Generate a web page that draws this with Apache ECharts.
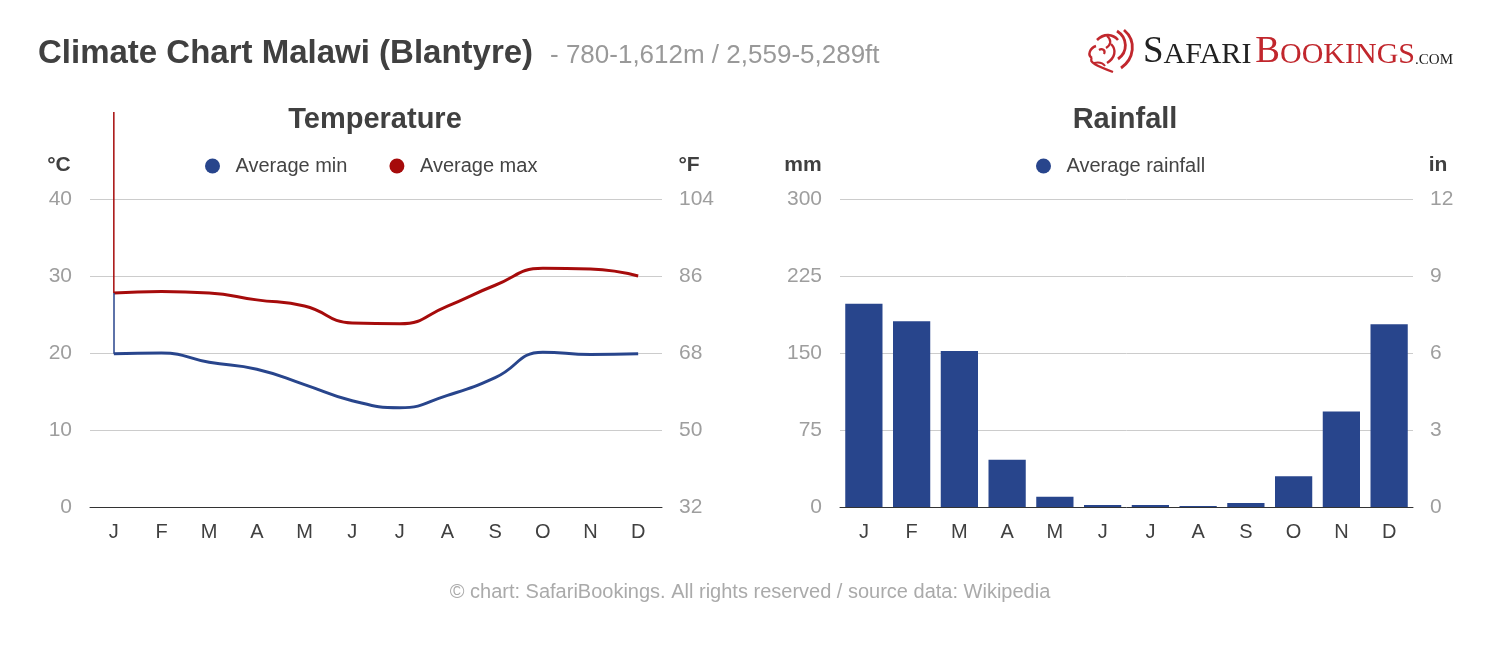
<!DOCTYPE html>
<html>
<head>
<meta charset="utf-8">
<script src="https://cdn.jsdelivr.net/npm/echarts@6/dist/echarts.min.js"></script>
<style>
html,body{margin:0;padding:0;background:#fff;}
#chart{width:1500px;height:652px;}
</style>
</head>
<body>
<div id="chart"></div>
<script>
// ---- data ----
const months = ['J','F','M','A','M','J','J','A','S','O','N','D'];
const avgMin = [19.9, 20.0, 18.8, 17.9, 15.9, 13.8, 12.9, 14.5, 16.8, 20.1, 19.8, 19.9];
const avgMax = [27.8, 28.0, 27.8, 26.9, 26.1, 23.9, 23.8, 26.1, 28.8, 31.0, 30.9, 30.0];
const rainfall = [198, 181, 152, 46, 10, 2, 2, 1, 4, 30, 93, 178];
const celsiusAxis = {min: 0, max: 40, interval: 10};
const fahrenheitAxis = {min: 32, max: 104, interval: 18};
const mmAxis = {min: 0, max: 300, interval: 75};
const inchAxis = {min: 0, max: 12, interval: 3};
const artifactTop = 51.3; // top end of the vertical start stroke (°C)

const FONT = '"Liberation Sans", Arial, sans-serif';
const SERIF = '"Liberation Serif", serif';
const BLUE = '#28458c';
const RED = '#a60b0b';
const LOGO_RED = '#c1272d';
const TICK = '#9e9e9e';
const DARK = '#404040';

const chart = echarts.init(document.getElementById('chart'), null, {renderer: 'canvas'});

function xAx(gi) {
  return {
    gridIndex: gi, type: 'category', data: months, boundaryGap: true,
    axisTick: {show: false},
    axisLine: {lineStyle: {color: '#333', width: 1}},
    axisLabel: {color: DARK, fontSize: 20, fontFamily: FONT, margin: 15}
  };
}
function yAx(gi, pos, r, grid) {
  return {
    gridIndex: gi, type: 'value', position: pos,
    min: r.min, max: r.max, interval: r.interval,
    axisLine: {show: false}, axisTick: {show: false},
    splitLine: {show: grid, lineStyle: {color: '#cccccc', width: 1}},
    axisLabel: {color: TICK, fontSize: 21, fontFamily: FONT, margin: pos === 'left' ? 18 : 17}
  };
}
function txt(x, y, text, size, color, bold, align) {
  return {type: 'text', x: x, y: y, silent: true, style: {
    text: text, fill: color, fontSize: size, fontWeight: bold ? 'bold' : 'normal',
    fontFamily: FONT, align: align || 'center', verticalAlign: 'middle'}};
}
function stroke(x1, y1, c1x, c1y, c2x, c2y, x2, y2, w) {
  return {type: 'bezierCurve', silent: true,
    shape: {x1: x1, y1: y1, cpx1: c1x, cpy1: c1y, cpx2: c2x, cpy2: c2y, x2: x2, y2: y2},
    style: {stroke: LOGO_RED, lineWidth: w || 2.4, fill: null}};
}

const graphics = [
  txt(38, 54, 'Climate Chart Malawi (Blantyre)', 33, DARK, true, 'left'),
  txt(550, 56, '- 780-1,612m / 2,559-5,289ft', 26, '#999999', false, 'left'),
  txt(375, 120, 'Temperature', 29, DARK, true),
  txt(1125, 120, 'Rainfall', 29, DARK, true),
  txt(59, 165, '°C', 21, DARK, true),
  txt(689, 165, '°F', 21, DARK, true),
  txt(803, 165, 'mm', 21, DARK, true),
  txt(1438, 165, 'in', 21, DARK, true),
  txt(750, 592, '© chart: SafariBookings. All rights reserved / source data: Wikipedia', 20, '#aaaaaa', false),
  // logo wordmark
  {type: 'text', x: 1143, y: 71, silent: true, style: {
    text: '{s|S}{a|AFARI}{b|B}{c|OOKINGS}{d|.COM}', align: 'left', verticalAlign: 'bottom',
    rich: {
      s: {fontSize: 37, fontFamily: SERIF, fill: '#222', verticalAlign: 'bottom'},
      a: {fontSize: 30, fontFamily: SERIF, fill: '#222', verticalAlign: 'bottom', padding: [0, 0, 1, 0]},
      b: {fontSize: 37, fontFamily: SERIF, fill: LOGO_RED, verticalAlign: 'bottom', padding: [0, 0, 0, 4]},
      c: {fontSize: 30, fontFamily: SERIF, fill: LOGO_RED, verticalAlign: 'bottom', padding: [0, 0, 1, 0]},
      d: {fontSize: 15, fontFamily: SERIF, fill: '#222', verticalAlign: 'bottom', padding: [0, 0, 3, 0]}
    }
  }},
  // logo lion mark (decorative strokes)
  stroke(1097, 40, 1104, 33, 1113, 34, 1118, 40, 2.6),
  stroke(1096, 46, 1090, 48, 1087, 55, 1092, 58, 2.4),
  stroke(1092, 58, 1088, 62, 1097, 66, 1113, 72, 2.4),
  stroke(1099, 50, 1102, 48, 1106, 50, 1104, 54, 2.2),
  stroke(1094, 63, 1099, 62, 1103, 63, 1105, 66, 2),
  stroke(1117, 31, 1128, 38, 1128, 52, 1118, 59, 2.8),
  stroke(1124, 30, 1137, 41, 1134, 59, 1121, 68, 2.8),
  stroke(1111, 44, 1117, 50, 1115, 58, 1107, 63, 2.4),
  stroke(1107, 36, 1112, 40, 1111, 45, 1106, 48, 2.2)
];

const option = {
  animation: false,
  backgroundColor: '#ffffff',
  grid: [
    {left: 90, right: 838, top: 199, bottom: 145},
    {left: 840, right: 87, top: 199, bottom: 145}
  ],
  xAxis: [xAx(0), xAx(1)],
  yAxis: [
    yAx(0, 'left', celsiusAxis, true),
    yAx(0, 'right', fahrenheitAxis, false),
    yAx(1, 'left', mmAxis, true),
    yAx(1, 'right', inchAxis, false)
  ],
  legend: [
    {
      data: ['Average min', 'Average max'], left: 205, top: 156, padding: 0,
      icon: 'circle', itemWidth: 36, itemHeight: 15, itemGap: 42,
      textStyle: {color: '#444', fontSize: 20, fontFamily: FONT}
    },
    {
      data: ['Average rainfall'], left: 1036, top: 156, padding: 0,
      icon: 'circle', itemWidth: 36, itemHeight: 15,
      textStyle: {color: '#444', fontSize: 20, fontFamily: FONT}
    }
  ],
  series: [
    {
      name: 'Average min', type: 'line', xAxisIndex: 0, yAxisIndex: 0,
      data: avgMin, smooth: true, showSymbol: false, symbol: 'circle',
      lineStyle: {color: BLUE, width: 3}, itemStyle: {color: BLUE},
      markLine: {
        silent: true, symbol: ['none', 'none'], label: {show: false},
        lineStyle: {color: BLUE, width: 1.5, type: 'solid'},
        data: [[{coord: [0, avgMin[0]]}, {coord: [0, avgMax[0]]}]]
      }
    },
    {
      name: 'Average max', type: 'line', xAxisIndex: 0, yAxisIndex: 0,
      data: avgMax, smooth: true, showSymbol: false, symbol: 'circle',
      lineStyle: {color: RED, width: 3}, itemStyle: {color: RED}
    },
    {
      name: 'Average rainfall', type: 'bar', xAxisIndex: 1, yAxisIndex: 2,
      data: rainfall, barCategoryGap: '22%',
      itemStyle: {color: BLUE}
    }
  ],
  graphic: graphics
};
chart.setOption(option);

// vertical red start stroke, positioned through the series' own scales
const pFrom = chart.convertToPixel({seriesIndex: 1}, [0, avgMax[0]]);
const pTo = chart.convertToPixel({seriesIndex: 1}, [0, artifactTop]);
if (pFrom && pTo) {
  graphics.push({type: 'line', silent: true, z: 5,
    shape: {x1: pFrom[0], y1: pFrom[1], x2: pTo[0], y2: pTo[1]},
    style: {stroke: RED, lineWidth: 1.5}});
  chart.setOption({graphic: graphics});
}
</script>
</body>
</html>
